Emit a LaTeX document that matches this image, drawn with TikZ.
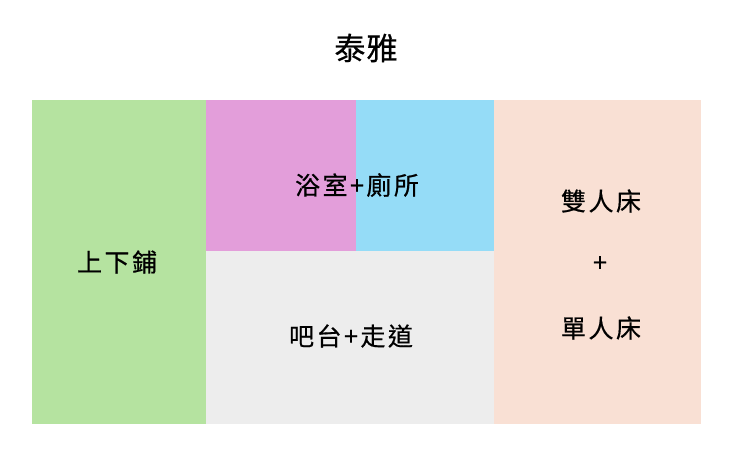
\documentclass[tikz,border=0pt]{standalone}
\usepackage{fontspec}
\newfontfamily\cjk[FakeBold=0.6,LetterSpace=10]{Noto Sans CJK TC}
\newfontfamily\cjkt[FakeBold=0.6,LetterSpace=4]{Noto Sans CJK TC}
\definecolor{cgreen}{HTML}{B5E3A0}
\definecolor{cpink}{HTML}{E39EDA}
\definecolor{cblue}{HTML}{95DCF7}
\definecolor{cgray}{HTML}{EDEDED}
\definecolor{cpeach}{HTML}{F9E0D4}
\tikzset{
  lbl/.style={font=\cjk\fontsize{25}{28}\selectfont, text=black, inner sep=0pt},
  ttl/.style={font=\cjkt\fontsize{31}{34}\selectfont, text=black, inner sep=0pt}
}
\begin{document}
\begin{tikzpicture}[x=1pt,y=-1pt]
\useasboundingbox[fill=white] (0,0) rectangle (730,467);
\fill[cgreen] (32,100) rectangle (206,424);
\fill[cpink] (206,100) rectangle (356,251);
\fill[cblue] (356,100) rectangle (494,251);
\fill[cgray] (206,251) rectangle (494,424);
\fill[cpeach] (494,100) rectangle (701,424);
\node[ttl] (title) at (366,48) {泰雅};
\node[lbl] (bunk) at (117,262) {上下鋪};
\node[lbl] (bath) at (357,185) {浴室+廁所};
\node[lbl] (bar) at (351,336) {吧台+走道};
\node[lbl] (dbl) at (601,201) {雙人床};
\node[lbl] (plus) at (600,264) {+};
\node[lbl] (sgl) at (601,328) {單人床};
\end{tikzpicture}
\end{document}
